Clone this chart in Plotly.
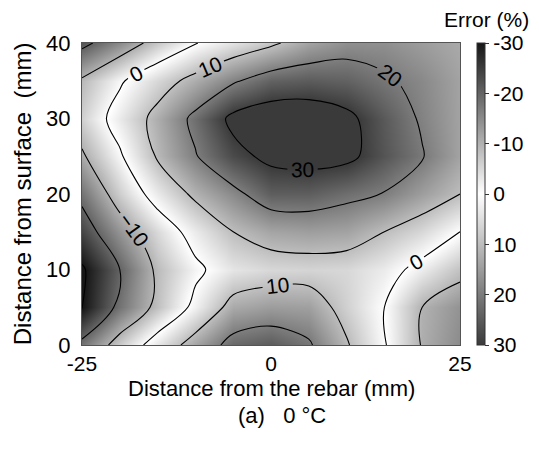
import plotly.graph_objects as go

# Grid coordinates (mm)
x_mm = [-25, -20, -15, -10, -5, 0, 5, 10, 15, 20, 25]
y_mm = [0, 5, 10, 15, 20, 25, 30, 35, 40]

# Error (%) values, one row per y (bottom to top)
err_y0 = [-18, -6.6, 3.9, 13.8, 23, 25, 21, 10.8, 0.6, -10.5, -15]
err_y5 = [-30.5, -18, -8, 2, 13, 15, 14.5, 7, 0, -10, -14]
err_y10 = [-31, -20, -8.6, -1.5, 4, 6, 6.5, 6, 3, -2.5, -8]
err_y15 = [-24, -13.8, -4.8, 3, 10, 13.7, 14.7, 14, 10, 5.9, 0]
err_y20 = [-18, -6.3, 3.3, 11.7, 17.9, 24.5, 24.5, 22, 19.7, 14.8, 10]
err_y25 = [-11, -1, 10.9, 19.5, 27.5, 32, 33, 32, 26, 20.5, 14]
err_y30 = [-6, 3.3, 12.6, 22, 32, 35, 35, 32, 25.3, 19, 14]
err_y35 = [-9, -1, 6.2, 12.6, 19, 24, 25, 24, 21, 18, 14]
err_y40 = [-22, -15, -7, -0.3, 4.3, 8.6, 14, 17, 17, 15, 13]

z = [err_y0, err_y5, err_y10, err_y15, err_y20, err_y25, err_y30, err_y35, err_y40]

x_ticks = [-25, 0, 25]
x_tick_text = ["-25", "0", "25"]
y_ticks = [0, 10, 20, 30, 40]
y_tick_text = ["0", "10", "20", "30", "40"]
cbar_vals = [-30, -20, -10, 0, 10, 20, 30]
cbar_text = ["30", "20", "10", "0", "-10", "-20", "-30"]

FONT = "Liberation Sans, Arial, sans-serif"

scale = [
    [0.0, "rgb(22,22,22)"],
    [0.5, "rgb(255,255,255)"],
    [1.0, "rgb(58,58,58)"],
]
scale_rev = [[1 - p, c] for p, c in reversed(scale)]

fig = go.Figure()
fig.add_trace(go.Contour(
    x=x_mm, y=y_mm, z=z,
    colorscale=scale, zmin=-30, zmax=30,
    contours=dict(start=-30, end=30, size=10, coloring="heatmap",
                  showlabels=True,
                  labelfont=dict(family=FONT, size=21, color="black")),
    line=dict(color="black", width=1.1),
    showscale=False,
))
# colorbar (displayed with -30 at the top)
fig.add_trace(go.Scatter(
    x=[None], y=[None], mode="markers",
    marker=dict(color=[0], colorscale=scale_rev, cmin=-30, cmax=30,
                showscale=True,
                colorbar=dict(x=1.045, xanchor="left", y=0.5, yanchor="middle",
                              len=1.0, lenmode="fraction", ypad=0, xpad=0,
                              thickness=8, outlinewidth=1,
                              outlinecolor="#333",
                              tickvals=cbar_vals, ticktext=cbar_text,
                              ticks="outside", ticklen=4, tickcolor="#333",
                              tickfont=dict(family=FONT, size=21, color="black"))),
    showlegend=False, hoverinfo="skip",
))

# page body has an 8px margin: the figure is sized and placed to compensate
fig.update_layout(
    width=531, height=448,
    margin=dict(l=74, r=79, t=35, b=111, autoexpand=False),
    paper_bgcolor="white", plot_bgcolor="white",
    font=dict(family=FONT, color="black"),
    showlegend=False,
    xaxis=dict(range=[-25, 25], tickvals=x_ticks, ticktext=x_tick_text,
               showgrid=False, zeroline=False,
               showline=True, linecolor="#555", linewidth=1, mirror=True,
               ticks="", tickfont=dict(size=21), ticklabelstandoff=0),
    yaxis=dict(range=[0, 40], tickvals=y_ticks, ticktext=y_tick_text,
               showgrid=False, zeroline=False,
               showline=True, linecolor="#555", linewidth=1, mirror=True,
               ticks="", tickfont=dict(size=22), ticklabelstandoff=6),
    annotations=[
        dict(text="Distance from the rebar (mm)", xref="paper", yref="paper",
             x=0.5, y=-0.143, xanchor="center", yanchor="middle",
             showarrow=False, font=dict(size=22)),
        dict(text="(a)\u00a0\u00a0\u00a00 \u00b0C", xref="paper", yref="paper",
             x=0.53, y=-0.234, xanchor="center", yanchor="middle",
             showarrow=False, font=dict(size=22)),
        dict(text="Distance from surface\u00a0\u00a0(mm)", xref="paper", yref="paper",
             x=-0.158, y=0.5, xanchor="center", yanchor="middle", textangle=-90,
             showarrow=False, font=dict(size=24)),
        dict(text="Error (%)", xref="paper", yref="paper",
             x=1.07, y=1.078, xanchor="center", yanchor="middle",
             showarrow=False, font=dict(size=21)),
    ],
)

fig.write_html("out.html")
